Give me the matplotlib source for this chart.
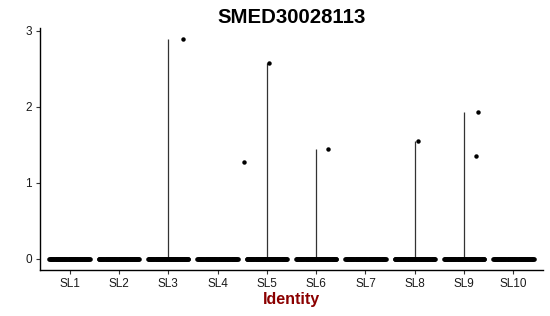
import numpy as np
import matplotlib
matplotlib.use("Agg")
import matplotlib.pyplot as plt

plt.rcParams['font.family'] = ['Liberation Sans', 'DejaVu Sans']

# groups and the non-zero expression values seen in each one
groups = ['SL1', 'SL2', 'SL3', 'SL4', 'SL5', 'SL6', 'SL7', 'SL8', 'SL9', 'SL10']
nonzero = {
    'SL3': [2.89],
    'SL5': [2.58, 1.27],
    'SL6': [1.44],
    'SL8': [1.55],
    'SL9': [1.93, 1.35],
}
# horizontal jitter of those points
jitter = {
    'SL3': [0.30],
    'SL5': [0.05, -0.47],
    'SL6': [0.25],
    'SL8': [0.07],
    'SL9': [0.29, 0.24],
}

fig = plt.figure(figsize=(5.5, 3.16), dpi=100)
ax = fig.add_axes([0.0727, 0.1456, 0.9145, 0.7655])

xs = np.arange(1, len(groups) + 1)
for x, g in zip(xs, groups):
    # zero cells, jittered across the violin width
    off = np.linspace(-0.41, 0.41, 60)
    ax.plot(x + off, np.zeros_like(off), 'o', color='black', ms=3.3,
            mec='none', zorder=3)
    vals = nonzero.get(g, [])
    if vals:
        ax.vlines(x, 0, max(vals), color='#333333', lw=0.9, zorder=2)
        ax.plot(x + np.array(jitter[g]), vals, 'o', color='black', ms=3.2,
                mec='none', zorder=3)

ax.set_xlim(0.4, len(groups) + 0.6)
ax.set_ylim(-0.1445, 3.0345)
ax.set_xticks(xs)
ax.set_xticklabels(groups)
ax.set_yticks([0, 1, 2, 3])

for s in ['top', 'right']:
    ax.spines[s].set_visible(False)
for s in ['left', 'bottom']:
    ax.spines[s].set_linewidth(1.0)
    ax.spines[s].set_color('black')
ax.tick_params(axis='both', length=3, width=0.8, color='#333333',
               labelsize=8.5, labelcolor='#1a1a1a', pad=3)

ax.set_title('SMED30028113', fontsize=14.7, fontweight='bold', pad=4)
ax.set_xlabel('Identity', fontsize=11.5, fontweight='bold', color='#8B0000',
              labelpad=1.5)

fig.savefig('out.png', dpi=100)
